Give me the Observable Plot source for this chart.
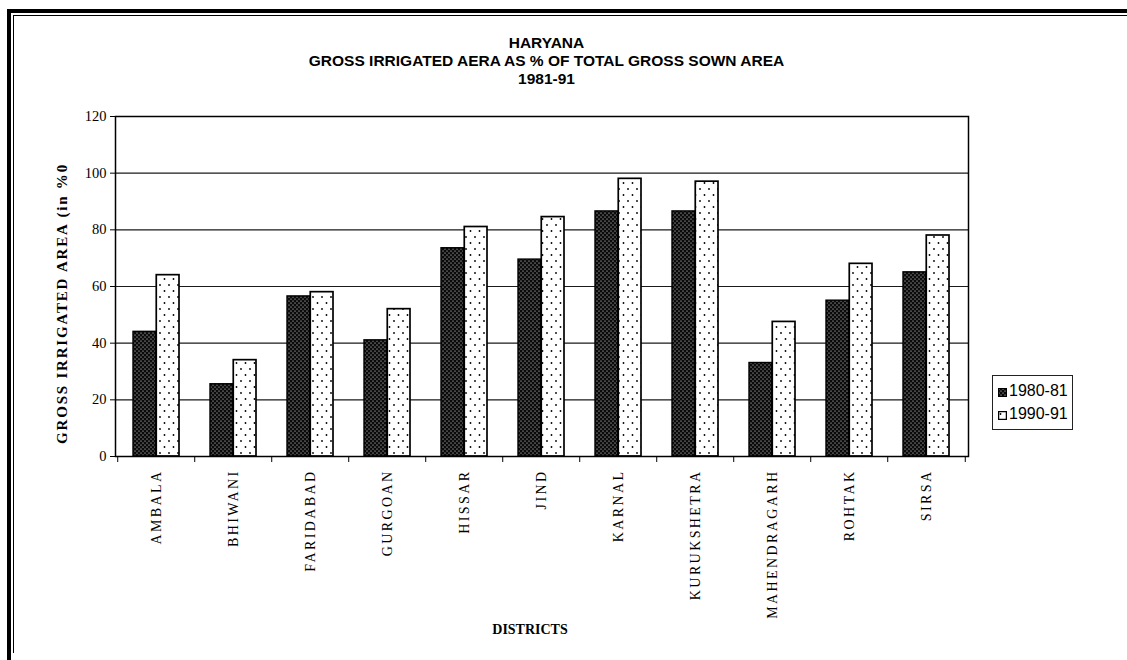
<!DOCTYPE html>
<html>
<head>
<meta charset="utf-8">
<script src="https://cdn.jsdelivr.net/npm/d3@7"></script>
<script src="https://cdn.jsdelivr.net/npm/@observablehq/plot@0.6"></script>
<style>
  html, body { margin: 0; padding: 0; background: #fff; }
  #page { position: relative; width: 1127px; height: 660px; overflow: hidden; background: #fff; }
  #page svg.chart { position: absolute; left: 0; top: 0; }
  .border-outer { position: absolute; left: 7px; top: 9px; width: 1140px; height: 647px;
    border-left: 4px solid #000; border-top: 4px solid #000; border-bottom: 3px solid #000; }
  .border-inner { position: absolute; left: 13px; top: 15px; width: 1140px; height: 637px;
    border-left: 1px solid #000; border-top: 1px solid #000; }
  .title { position: absolute; left: 0; width: 1093px; text-align: center;
    font-family: "Liberation Sans", Arial, sans-serif;
    font-weight: bold; font-size: 15.5px; line-height: 18px; color: #000; }
  .legend { position: absolute; left: 992px; top: 375px; width: 81px; height: 55px;
    border: 1px solid #222; box-sizing: border-box; background: #fff;
    font-family: "Liberation Sans", Arial, sans-serif; font-size: 16px; color: #000; }
  .legend .row { position: absolute; left: 5px; height: 18px; line-height: 18px; white-space: nowrap; }
  .legend svg { vertical-align: -1px; margin-right: 2px; }
  g[aria-label="x-axis tick label"] text { letter-spacing: 2.4px; }
  .ylabel { letter-spacing: 1.8px; }
</style>
</head>
<body>
<div id="page">
  <svg width="0" height="0" style="position:absolute">
    <defs>
      <pattern id="dots-dark" width="4" height="4" patternUnits="userSpaceOnUse">
        <rect width="4" height="4" fill="#0a0a0a"/>
        <circle cx="1" cy="1" r="0.55" fill="#fff"/>
        <circle cx="3" cy="3" r="0.55" fill="#fff"/>
      </pattern>
      <pattern id="dots-light" width="9" height="12" patternUnits="userSpaceOnUse">
        <rect width="9" height="12" fill="#fff"/>
        <circle cx="2.5" cy="3" r="0.9" fill="#000"/>
        <circle cx="7" cy="9" r="0.9" fill="#000"/>
      </pattern>
    </defs>
  </svg>
  <div class="border-outer"></div>
  <div class="border-inner"></div>
  <div class="title" style="top:34px">HARYANA</div>
  <div class="title" style="top:52px">GROSS IRRIGATED AERA AS % OF TOTAL GROSS SOWN AREA</div>
  <div class="title" style="top:70px">1981-91</div>
  <div class="legend">
    <div class="row" style="top:6px"><svg width="9" height="9"><rect x="0.5" y="0.5" width="8" height="8" fill="url(#dots-dark)" stroke="#000"/></svg>1980-81</div>
    <div class="row" style="top:29px"><svg width="9" height="9"><rect x="0.5" y="0.5" width="8" height="8" fill="url(#dots-light)" stroke="#000" stroke-width="1.5"/></svg>1990-91</div>
  </div>
</div>
<script>
// Gross irrigated area as % of total gross sown area, Haryana districts
const districts = ["AMBALA", "BHIWANI", "FARIDABAD", "GURGOAN", "HISSAR", "JIND",
  "KARNAL", "KURUKSHETRA", "MAHENDRAGARH", "ROHTAK", "SIRSA"];
const irrigated1981 = [44, 25.5, 56.5, 41, 73.5, 69.5, 86.5, 86.5, 33, 55, 65];
const irrigated1991 = [64, 34, 58, 52, 81, 84.5, 98, 97, 47.5, 68, 78];
const yTicks = [0, 20, 40, 60, 80, 100, 120];
const seriesLabels = ["1980-81", "1990-91"];

const rows = districts.map((d, i) => ({district: d, a: irrigated1981[i], b: irrigated1991[i]}));

const width = 1127, height = 660;
const marginLeft = 115, marginRight = 159, marginTop = 116, marginBottom = 204;
const paddingInner = 0.4, paddingOuter = 0.2;
const step = (width - marginLeft - marginRight) / (districts.length - paddingInner + 2 * paddingOuter);
const halfBand = step * (1 - paddingInner) / 2;

const chart = Plot.plot({
  width, height, marginLeft, marginRight, marginTop, marginBottom,
  style: {fontFamily: "'Liberation Serif', 'Times New Roman', serif", fontSize: "14px",
    color: "#000", background: "transparent", overflow: "visible"},
  x: {domain: districts, paddingInner, paddingOuter, label: null},
  y: {domain: [0, 120], ticks: yTicks, label: null},
  marks: [
    Plot.gridY(yTicks, {stroke: "#1a1a1a", strokeOpacity: 1, strokeWidth: 1.1}),
    Plot.barY(rows, {x: "district", y: "a", fill: "url(#dots-dark)", stroke: "#000",
      strokeWidth: 1.4, insetRight: halfBand, title: d => `${d.district} ${seriesLabels[0]}: ${d.a}`}),
    Plot.barY(rows, {x: "district", y: "b", fill: "url(#dots-light)", stroke: "#000",
      strokeWidth: 1.7, insetLeft: halfBand, title: d => `${d.district} ${seriesLabels[1]}: ${d.b}`}),
    Plot.frame({stroke: "#000", strokeWidth: 1.5}),
    Plot.axisY(yTicks, {tickSize: 5, tickPadding: 4, fontSize: 14.5, label: null}),
    Plot.axisX({tickSize: 0, tickRotate: -90, tickPadding: 13, fontSize: 14, label: null}),
    // category boundary ticks below the axis
    Plot.axisX(districts, {tickSize: 6, tickFormat: () => "", dx: -step / 2, label: null}),
    Plot.axisX([districts[districts.length - 1]], {tickSize: 6, tickFormat: () => "", dx: step / 2, label: null}),
    Plot.text(["GROSS IRRIGATED AREA (in %0"], {frameAnchor: "left", textAnchor: "middle", rotate: -90,
      dx: -53, dy: 17, fontWeight: "bold", fontSize: 15, className: "ylabel"}),
    Plot.text(["DISTRICTS"], {frameAnchor: "bottom", dy: 177, dx: -12, fontWeight: "bold", fontSize: 14})
  ]
});
chart.classList.add("chart");
document.getElementById("page").appendChild(chart);
</script>
</body>
</html>
